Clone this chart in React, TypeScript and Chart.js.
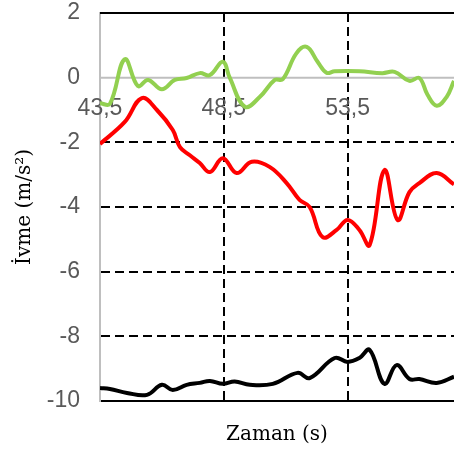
import React, { useEffect, useRef } from "react";
import { Chart, registerables } from "chart.js";

Chart.register(...registerables);

const xTickValues = [43.5, 48.5, 53.5];
const xTickLabels = ["43,5", "48,5", "53,5"];
const yMin = -10;
const yMax = 2;
const yStep = 2;
const xMin = 43.5;
const xMax = 57.8;

const greenX = [43.5, 43.9, 44.5, 45.03, 45.44, 46.0, 46.52, 47.0, 47.53, 47.94, 48.46, 48.74, 49.35, 49.95, 50.56, 50.88, 51.44, 51.85, 52.29, 52.65, 52.98, 53.98, 54.9, 55.4, 56.0, 56.4, 56.73, 57.1, 57.5, 57.8];
const greenY = [-0.79, -0.81, 0.57, -0.26, -0.07, -0.36, -0.07, -0.01, 0.14, 0.08, 0.49, 0.0, -0.9, -0.6, -0.07, -0.05, 0.76, 0.95, 0.49, 0.15, 0.2, 0.2, 0.14, 0.18, -0.1, -0.01, -0.53, -0.87, -0.6, -0.1];

const redX = [43.5, 44.5, 45.19, 45.8, 46.44, 46.73, 47.13, 47.53, 47.94, 48.46, 49.02, 49.63, 50.35, 51.04, 51.56, 51.97, 52.49, 53.06, 53.5, 53.98, 54.39, 54.99, 55.52, 56.0, 56.4, 57.1, 57.8];
const redY = [-2.05, -1.37, -0.63, -1.0, -1.62, -2.15, -2.4, -2.64, -2.92, -2.49, -2.95, -2.6, -2.76, -3.26, -3.78, -4.0, -4.93, -4.71, -4.4, -4.71, -5.18, -2.86, -4.4, -3.54, -3.26, -2.95, -3.3];

const blackX = [43.5, 43.9, 44.59, 45.4, 46.0, 46.44, 47.0, 47.53, 47.94, 48.46, 48.94, 49.55, 50.48, 51.48, 51.97, 52.98, 53.5, 53.98, 54.39, 54.99, 55.48, 56.0, 56.4, 57.1, 57.8];
const blackY = [-9.6, -9.63, -9.75, -9.81, -9.5, -9.66, -9.5, -9.44, -9.38, -9.47, -9.4, -9.5, -9.47, -9.13, -9.29, -8.67, -8.79, -8.67, -8.42, -9.47, -8.89, -9.32, -9.32, -9.44, -9.25];

const toPoints = (xs: number[], ys: number[]) => xs.map((x, i) => ({ x, y: ys[i] }));

const TICK_FONT = "'Liberation Sans', Arial, sans-serif";
const SERIF = "'DejaVu Serif', serif";
const TICK_COLOR = "#595959";

const refLines = {
  id: "refLines",
  beforeDatasetsDraw(chart: any) {
    const { ctx, chartArea, scales } = chart;
    const x = scales.x;
    const y = scales.y;
    ctx.save();
    const y0 = y.getPixelForValue(0);
    ctx.strokeStyle = "#bfbfbf";
    ctx.lineWidth = 2;
    ctx.beginPath();
    ctx.moveTo(chartArea.left, y0);
    ctx.lineTo(chartArea.right, y0);
    ctx.stroke();
    const yT = y.getPixelForValue(yMax);
    ctx.strokeStyle = "#000";
    ctx.beginPath();
    ctx.moveTo(chartArea.left, yT);
    ctx.lineTo(chartArea.right, yT);
    ctx.stroke();
    ctx.fillStyle = TICK_COLOR;
    ctx.font = `23px ${TICK_FONT}`;
    ctx.textAlign = "center";
    ctx.textBaseline = "middle";
    xTickValues.forEach((v, i) => {
      ctx.fillText(xTickLabels[i], x.getPixelForValue(v), y0 + 31);
    });
    ctx.restore();
  },
};

export default function App() {
  const ref = useRef<HTMLCanvasElement | null>(null);
  useEffect(() => {
    if (!ref.current) return;
    const chart = new Chart(ref.current, {
      type: "line",
      data: {
        datasets: [
          { data: toPoints(greenX, greenY), borderColor: "#92D050", borderWidth: 4, pointRadius: 0, tension: 0.4, fill: false },
          { data: toPoints(redX, redY), borderColor: "#FF0000", borderWidth: 4, pointRadius: 0, tension: 0.4, fill: false },
          { data: toPoints(blackX, blackY), borderColor: "#000000", borderWidth: 4, pointRadius: 0, tension: 0.4, fill: false },
        ],
      },
      options: {
        responsive: false,
        animation: false,
        layout: { padding: { top: 13, right: 0, bottom: 0, left: 0 } },
        plugins: { legend: { display: false }, tooltip: { enabled: false } },
        scales: {
          x: {
            type: "linear",
            min: xMin,
            max: xMax,
            afterBuildTicks: (scale: any) => {
              scale.ticks = xTickValues.map((v) => ({ value: v }));
            },
            afterFit: (scale: any) => {
              scale.height = 52;
              scale.paddingLeft = 0;
              scale.paddingRight = 0;
            },
            ticks: { display: false },
            grid: {
              color: (c: any) => (c.tick && c.tick.value === xMin ? "rgba(0,0,0,0)" : "#000"),
              lineWidth: 2,
              drawTicks: false,
            },
            border: { display: true, color: "#000", width: 2, dash: [9, 5] },
            title: {
              display: true,
              text: "Zaman (s)",
              color: "#000",
              font: { family: SERIF, size: 20 },
              padding: { top: 0, bottom: 6 },
            },
          },
          y: {
            min: yMin,
            max: yMax,
            afterFit: (scale: any) => {
              scale.width = 100;
              scale.paddingTop = 10;
              scale.paddingBottom = 10;
            },
            ticks: {
              stepSize: yStep,
              color: TICK_COLOR,
              padding: 20,
              font: { family: TICK_FONT, size: 23, lineHeight: 1 },
              callback: (v: any) => String(v),
            },
            grid: {
              color: (c: any) =>
                c.tick && (c.tick.value === 0 || c.tick.value === yMax) ? "rgba(0,0,0,0)" : "#000",
              lineWidth: 2,
              drawTicks: false,
            },
            border: { display: true, color: "#bfbfbf", width: 2, dash: [9, 5] },
            title: {
              display: true,
              text: "İvme (m/s²)",
              color: "#000",
              font: { family: SERIF, size: 20 },
              padding: { top: 13, bottom: 0 },
            },
          },
        },
      },
      plugins: [refLines],
    });
    return () => chart.destroy();
  }, []);
  return (
    <div style={{ position: "absolute", left: 0, top: 0, width: 454, height: 453 }}>
      <canvas ref={ref} width={454} height={453} />
    </div>
  );
}
